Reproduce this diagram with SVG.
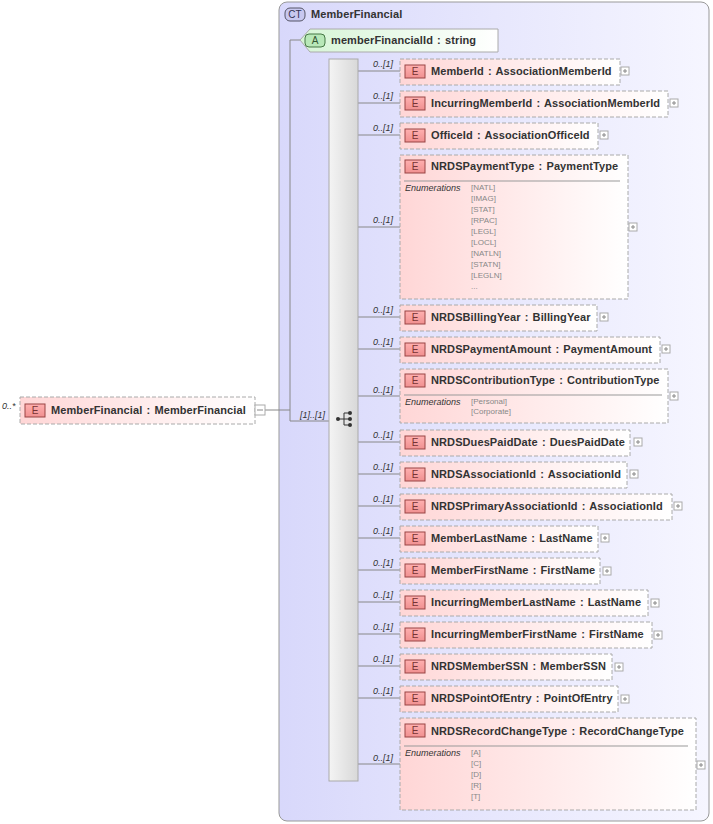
<svg xmlns="http://www.w3.org/2000/svg" width="713" height="824" viewBox="0 0 713 824">
<defs>
<linearGradient id="ct" x1="0" y1="0" x2="1" y2="0"><stop offset="0" stop-color="#d8d8fb"/><stop offset="1" stop-color="#f6f6ff"/></linearGradient>
<linearGradient id="el" x1="0" y1="0" x2="1" y2="0"><stop offset="0" stop-color="#ffd6d6"/><stop offset="1" stop-color="#fff"/></linearGradient>
<linearGradient id="at" x1="0" y1="0" x2="1" y2="0"><stop offset="0" stop-color="#d6f5d6"/><stop offset="1" stop-color="#fff"/></linearGradient>
<linearGradient id="sq" x1="0" y1="0" x2="1" y2="0"><stop offset="0" stop-color="#f4f4f4"/><stop offset="1" stop-color="#d8d8d8"/></linearGradient>
<linearGradient id="badge" x1="0" y1="0" x2="0" y2="1"><stop offset="0" stop-color="#ffb0b0"/><stop offset="1" stop-color="#f09090"/></linearGradient>
</defs>
<style>
text{font-family:"Liberation Sans",Arial,sans-serif}
.n{font-size:11px;font-weight:bold;fill:#333;letter-spacing:0.1px;word-spacing:1px}
.m{font-size:9px;font-style:italic;fill:#333}
.en{font-size:8px;fill:#888}
.el{fill:url(#el);stroke:#aaa;stroke-dasharray:4,2}
.b{fill:url(#badge);stroke:#944}
.bt{font-size:10px;fill:#733;text-anchor:middle}
.pl{fill:#fff;stroke:#aaa}
.c{stroke:#888;fill:none}
</style>
<g id="ct-box">
<rect x="279" y="2" width="430" height="819" rx="8" fill="url(#ct)" stroke="#999"/>
<rect x="285" y="8" width="20" height="13" rx="5" fill="#c8c8f0" stroke="#556"/>
<text x="295" y="18" class="bt" style="fill:#335">CT</text>
<text x="311" y="18" class="n">MemberFinancial</text>
</g>
<g id="connectors">
<path class="c" d="M265 410H290V421H329M290 410V40H300"/>
<path class="c" d="M358 71H400M358 103H400M358 135H400M358 227H400M358 317H400M358 349H400M358 396H400M358 442H400M358 474H400M358 506H400M358 538H400M358 570H400M358 602H400M358 634H400M358 666H400M358 698H400M358 764H400"/>
</g>
<g id="attr">
<path d="M300 40L310 29H498V52H310Z" fill="url(#at)" stroke="#aaa"/>
<rect x="305" y="34" width="20" height="13" rx="4" fill="#b8e8b8" stroke="#474"/>
<text x="315" y="44" class="bt" style="fill:#353">A</text>
<text x="331" y="44" class="n">memberFinancialId : string</text>
</g>
<g id="root">
<text x="2" y="409" class="m">0..*</text>
<rect x="20" y="397" width="235" height="27" class="el"/>
<rect x="25" y="404" width="20" height="13" class="b"/><text x="35" y="414" class="bt">E</text>
<text x="51" y="414" class="n">MemberFinancial : MemberFinancial</text>
<rect x="255" y="405" width="10" height="10" class="pl"/><path d="M257 410H263" stroke="#888"/>
<text x="300" y="418" class="m">[1]..[1]</text>
</g>
<g id="sequence">
<rect x="329" y="59" width="29" height="722" fill="url(#sq)" stroke="#aaa"/>
<path d="M338 419H344M344 413V425M344 413H350M344 419H350M344 425H350" stroke="#333" fill="none"/>
<circle cx="338" cy="419" r="2" fill="#333"/><circle cx="350" cy="413" r="2" fill="#333"/><circle cx="350" cy="419" r="2" fill="#333"/><circle cx="350" cy="425" r="2" fill="#333"/>
</g>
<g id="e1"><text x="373" y="67" class="m">0..[1]</text><rect x="400" y="59" width="220" height="26" class="el"/><rect x="405" y="65" width="20" height="13" class="b"/><text x="415" y="75" class="bt">E</text><text x="431" y="75" class="n">MemberId : AssociationMemberId</text><rect x="621" y="67" width="8" height="8" class="pl"/><path d="M623 71H627M625 69V73" stroke="#888"/></g>
<g id="e2"><text x="373" y="99" class="m">0..[1]</text><rect x="400" y="91" width="268" height="26" class="el"/><rect x="405" y="97" width="20" height="13" class="b"/><text x="415" y="107" class="bt">E</text><text x="431" y="107" class="n">IncurringMemberId : AssociationMemberId</text><rect x="670" y="99" width="8" height="8" class="pl"/><path d="M672 103H676M674 101V105" stroke="#888"/></g>
<g id="e3"><text x="373" y="131" class="m">0..[1]</text><rect x="400" y="123" width="198" height="26" class="el"/><rect x="405" y="129" width="20" height="13" class="b"/><text x="415" y="139" class="bt">E</text><text x="431" y="139" class="n">OfficeId  : AssociationOfficeId</text><rect x="600" y="131" width="8" height="8" class="pl"/><path d="M602 135H606M604 133V137" stroke="#888"/></g>
<g id="e4"><text x="373" y="223" class="m">0..[1]</text><rect x="400" y="155" width="228" height="144" class="el"/><rect x="405" y="160" width="20" height="13" class="b"/><text x="415" y="170" class="bt">E</text><text x="431" y="170" class="n">NRDSPaymentType : PaymentType</text><path d="M404 181H620" stroke="#999"/><text x="405" y="191" class="m">Enumerations</text>
<text class="en" x="471"><tspan x="471" y="190">[NATL]</tspan><tspan x="471" y="201">[IMAG]</tspan><tspan x="471" y="212">[STAT]</tspan><tspan x="471" y="223">[RPAC]</tspan><tspan x="471" y="234">[LEGL]</tspan><tspan x="471" y="245">[LOCL]</tspan><tspan x="471" y="256">[NATLN]</tspan><tspan x="471" y="267">[STATN]</tspan><tspan x="471" y="278">[LEGLN]</tspan><tspan x="471" y="289">...</tspan></text>
<rect x="629" y="223" width="8" height="8" class="pl"/><path d="M631 227H635M633 225V229" stroke="#888"/></g>
<g id="e5"><text x="373" y="313" class="m">0..[1]</text><rect x="400" y="305" width="197" height="26" class="el"/><rect x="405" y="311" width="20" height="13" class="b"/><text x="415" y="321" class="bt">E</text><text x="431" y="321" class="n">NRDSBillingYear : BillingYear</text><rect x="600" y="313" width="8" height="8" class="pl"/><path d="M602 317H606M604 315V319" stroke="#888"/></g>
<g id="e6"><text x="373" y="345" class="m">0..[1]</text><rect x="400" y="337" width="260" height="26" class="el"/><rect x="405" y="343" width="20" height="13" class="b"/><text x="415" y="353" class="bt">E</text><text x="431" y="353" class="n">NRDSPaymentAmount : PaymentAmount</text><rect x="662" y="345" width="8" height="8" class="pl"/><path d="M664 349H668M666 347V351" stroke="#888"/></g>
<g id="e7"><text x="373" y="393" class="m">0..[1]</text><rect x="400" y="369" width="268" height="54" class="el"/><rect x="405" y="374" width="20" height="13" class="b"/><text x="415" y="384" class="bt">E</text><text x="431" y="384" class="n">NRDSContributionType : ContributionType</text><path d="M404 395H662" stroke="#999"/><text x="405" y="405" class="m">Enumerations</text><text x="471" y="404" class="en">[Personal]</text><text x="471" y="414" class="en">[Corporate]</text><rect x="670" y="392" width="8" height="8" class="pl"/><path d="M672 396H676M674 394V398" stroke="#888"/></g>
<g id="e8"><text x="373" y="438" class="m">0..[1]</text><rect x="400" y="430" width="230" height="26" class="el"/><rect x="405" y="436" width="20" height="13" class="b"/><text x="415" y="446" class="bt">E</text><text x="431" y="446" class="n">NRDSDuesPaidDate : DuesPaidDate</text><rect x="634" y="438" width="8" height="8" class="pl"/><path d="M636 442H640M638 440V444" stroke="#888"/></g>
<g id="e9"><text x="373" y="470" class="m">0..[1]</text><rect x="400" y="462" width="227" height="26" class="el"/><rect x="405" y="468" width="20" height="13" class="b"/><text x="415" y="478" class="bt">E</text><text x="431" y="478" class="n">NRDSAssociationId : AssociationId</text><rect x="630" y="470" width="8" height="8" class="pl"/><path d="M632 474H636M634 472V476" stroke="#888"/></g>
<g id="e10"><text x="373" y="502" class="m">0..[1]</text><rect x="400" y="494" width="272" height="26" class="el"/><rect x="405" y="500" width="20" height="13" class="b"/><text x="415" y="510" class="bt">E</text><text x="431" y="510" class="n">NRDSPrimaryAssociationId : AssociationId</text><rect x="674" y="502" width="8" height="8" class="pl"/><path d="M676 506H680M678 504V508" stroke="#888"/></g>
<g id="e11"><text x="373" y="534" class="m">0..[1]</text><rect x="400" y="526" width="198" height="26" class="el"/><rect x="405" y="532" width="20" height="13" class="b"/><text x="415" y="542" class="bt">E</text><text x="431" y="542" class="n">MemberLastName : LastName</text><rect x="601" y="534" width="8" height="8" class="pl"/><path d="M603 538H607M605 536V540" stroke="#888"/></g>
<g id="e12"><text x="373" y="566" class="m">0..[1]</text><rect x="400" y="558" width="200" height="26" class="el"/><rect x="405" y="564" width="20" height="13" class="b"/><text x="415" y="574" class="bt">E</text><text x="431" y="574" class="n">MemberFirstName : FirstName</text><rect x="603" y="567" width="8" height="8" class="pl"/><path d="M605 571H609M607 569V573" stroke="#888"/></g>
<g id="e13"><text x="373" y="598" class="m">0..[1]</text><rect x="400" y="590" width="248" height="26" class="el"/><rect x="405" y="596" width="20" height="13" class="b"/><text x="415" y="606" class="bt">E</text><text x="431" y="606" class="n">IncurringMemberLastName : LastName</text><rect x="651" y="599" width="8" height="8" class="pl"/><path d="M653 603H657M655 601V605" stroke="#888"/></g>
<g id="e14"><text x="373" y="630" class="m">0..[1]</text><rect x="400" y="622" width="252" height="26" class="el"/><rect x="405" y="628" width="20" height="13" class="b"/><text x="415" y="638" class="bt">E</text><text x="431" y="638" class="n">IncurringMemberFirstName : FirstName</text><rect x="654" y="631" width="8" height="8" class="pl"/><path d="M656 635H660M658 633V637" stroke="#888"/></g>
<g id="e15"><text x="373" y="662" class="m">0..[1]</text><rect x="400" y="654" width="212" height="26" class="el"/><rect x="405" y="660" width="20" height="13" class="b"/><text x="415" y="670" class="bt">E</text><text x="431" y="670" class="n">NRDSMemberSSN : MemberSSN</text><rect x="615" y="663" width="8" height="8" class="pl"/><path d="M617 667H621M619 665V669" stroke="#888"/></g>
<g id="e16"><text x="373" y="694" class="m">0..[1]</text><rect x="400" y="686" width="218" height="26" class="el"/><rect x="405" y="692" width="20" height="13" class="b"/><text x="415" y="702" class="bt">E</text><text x="431" y="702" class="n">NRDSPointOfEntry : PointOfEntry</text><rect x="621" y="695" width="8" height="8" class="pl"/><path d="M623 699H627M625 697V701" stroke="#888"/></g>
<g id="e17"><text x="373" y="761" class="m">0..[1]</text><rect x="400" y="718" width="296" height="92" class="el"/><rect x="405" y="724" width="20" height="13" class="b"/><text x="415" y="734" class="bt">E</text><text x="431" y="735" class="n">NRDSRecordChangeType : RecordChangeType</text><path d="M404 746H688" stroke="#999"/><text x="405" y="756" class="m">Enumerations</text>
<text class="en"><tspan x="471" y="755">[A]</tspan><tspan x="471" y="766">[C]</tspan><tspan x="471" y="777">[D]</tspan><tspan x="471" y="788">[R]</tspan><tspan x="471" y="799">[T]</tspan></text>
<rect x="697" y="761" width="8" height="8" class="pl"/><path d="M699 765H703M701 763V767" stroke="#888"/></g>
</svg>
